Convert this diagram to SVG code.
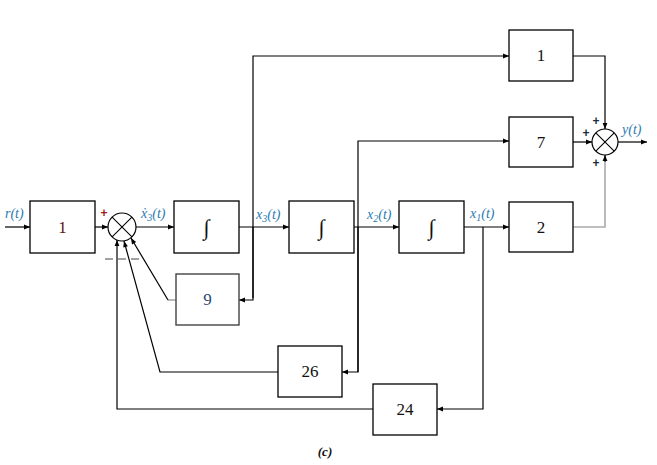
<svg xmlns="http://www.w3.org/2000/svg" width="657" height="465" viewBox="0 0 657 465">
<style>
.box{fill:#fff;stroke:#000;stroke-width:1.3}
.w{fill:none;stroke:#000;stroke-width:1.2}
.g{fill:none;stroke:#aaa;stroke-width:1.6}
text{font-family:'Liberation Serif','Times New Roman',serif}
.num{font-size:17px;fill:#111;text-anchor:middle}
.int{font-size:22px;fill:#111;text-anchor:middle}
.lbl{font-style:italic;font-size:14px;fill:#2a7ab0}
.sub{font-size:10px}
.pl{font-family:'Liberation Sans',sans-serif;font-size:12px;font-weight:bold;fill:#1a2a40;text-anchor:middle}
</style>
<defs>
<marker id="ah" viewBox="0 0 10 10" refX="10" refY="5" markerWidth="8" markerHeight="6" markerUnits="userSpaceOnUse" orient="auto">
<path d="M0,1 L10,5 L0,9 z" fill="#000"/>
</marker>
</defs>
<g id="connectors">
<path class="w" d="M5,227 H30" marker-end="url(#ah)"/>
<path class="w" d="M95,227 H108" marker-end="url(#ah)"/>
<path class="w" d="M136,227 H174" marker-end="url(#ah)"/>
<path class="w" d="M239,227 H289" marker-end="url(#ah)"/>
<path class="w" d="M354,227 H399" marker-end="url(#ah)"/>
<path class="w" d="M464,227 H509" marker-end="url(#ah)"/>
<path class="w" d="M253,298 V56 H509" marker-end="url(#ah)"/>
<path class="w" d="M253,227 V300 H239" marker-end="url(#ah)"/>
<path class="w" d="M358,372 V141 H509" marker-end="url(#ah)"/>
<path class="w" d="M358,227 V372 H342" marker-end="url(#ah)"/>
<path class="w" d="M483,227 V409 H437" marker-end="url(#ah)"/>
<path class="g" d="M168,300 H176"/>
<path class="w" d="M168,300 L131,238" marker-end="url(#ah)"/>
<path class="w" d="M278,372 H160 L124,241" marker-end="url(#ah)"/>
<path class="w" d="M373,409 H117 V240" marker-end="url(#ah)"/>
<path class="w" d="M573,56 H605 V129" marker-end="url(#ah)"/>
<path class="w" d="M573,142 H592" marker-end="url(#ah)"/>
<path class="g" d="M573,227 H605 V162"/>
<path class="w" d="M605,162 V155" marker-end="url(#ah)"/>
<path class="w" d="M618,142 H647" marker-end="url(#ah)"/>
<path d="M105,259 H113 M118,259 H126 M131,259 H139" stroke="#444" stroke-width="1.1"/>
</g>
<g id="gain_in"><rect class="box" x="30" y="201" width="65" height="52"/><text class="num" x="62.5" y="233" style="fill:#5a1515">1</text></g>
<g id="sum1"><circle cx="122" cy="227" r="14" fill="#fff" stroke="#000" stroke-width="1.2"/><path d="M112.1,217.1 L131.9,236.9 M131.9,217.1 L112.1,236.9" stroke="#000" stroke-width="1.1"/><text class="pl" x="104" y="217" style="fill:#a01818">+</text></g>
<g id="int1"><rect class="box" x="174" y="201" width="65" height="52"/><text class="int" x="206.5" y="235">∫</text></g>
<g id="int2"><rect class="box" x="289" y="201" width="65" height="52"/><text class="int" x="321.5" y="235">∫</text></g>
<g id="int3"><rect class="box" x="399" y="201" width="65" height="52"/><text class="int" x="431.5" y="235">∫</text></g>
<g id="gain2"><rect class="box" x="509" y="202" width="64" height="50"/><text class="num" x="541" y="233">2</text></g>
<g id="gain1"><rect class="box" x="509" y="30" width="64" height="51"/><text class="num" x="541" y="61">1</text></g>
<g id="gain7"><rect class="box" x="509" y="117" width="64" height="50"/><text class="num" x="541" y="148">7</text></g>
<g id="gain9"><rect x="176" y="274" width="63" height="51" fill="#fff" stroke="#444" stroke-width="1.4"/><text class="num" x="207.5" y="305" style="fill:#2a4a70">9</text></g>
<g id="gain26"><rect class="box" x="278" y="346" width="64" height="51"/><text class="num" x="310" y="377">26</text></g>
<g id="gain24"><rect class="box" x="373" y="384" width="64" height="51"/><text class="num" x="405" y="415">24</text></g>
<g id="sum2"><circle cx="605" cy="142" r="13" fill="#fff" stroke="#000" stroke-width="1.2"/><path d="M595.8,132.8 L614.2,151.2 M614.2,132.8 L595.8,151.2" stroke="#000" stroke-width="1.1"/>
<text class="pl" x="596" y="125">+</text><text class="pl" x="586" y="137">+</text><text class="pl" x="596" y="167">+</text></g>
<g id="labels">
<text class="lbl" x="5" y="218">r(t)</text>
<text class="lbl" x="141" y="218">ẋ<tspan class="sub" dy="3">3</tspan><tspan dy="-3">(t)</tspan></text>
<text class="lbl" x="256" y="219">x<tspan class="sub" dy="3">3</tspan><tspan dy="-3">(t)</tspan></text>
<text class="lbl" x="367" y="219">x<tspan class="sub" dy="3">2</tspan><tspan dy="-3">(t)</tspan></text>
<text class="lbl" x="470" y="218">x<tspan class="sub" dy="3">1</tspan><tspan dy="-3">(t)</tspan></text>
<text class="lbl" x="622" y="134">y(t)</text>
<text x="325" y="456" font-size="13" font-weight="bold" font-style="italic" fill="#111" text-anchor="middle">(c)</text>
</g>
</svg>
